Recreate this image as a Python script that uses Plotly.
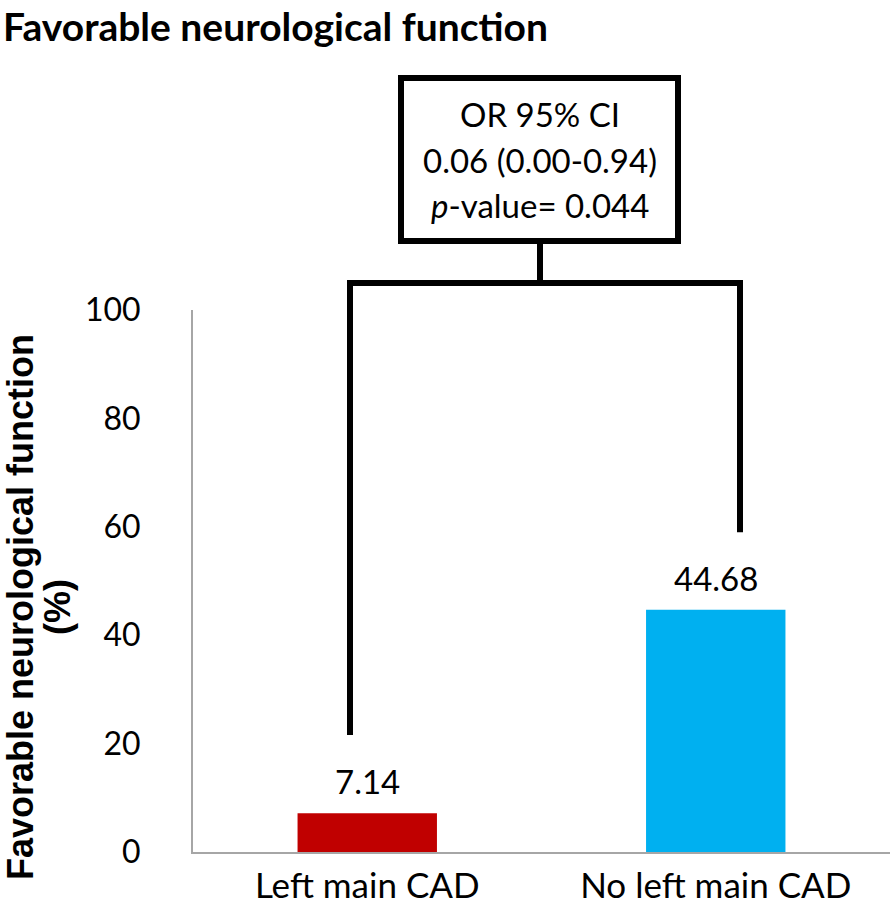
import plotly.graph_objects as go

categories = ["Left main CAD", "No left main CAD"]
values = [7.14, 44.68]
colors = ["#C00000", "#00B0F0"]
y_ticks = [0, 20, 40, 60, 80, 100]
stat_lines = ["OR 95% CI", "0.06 (0.00-0.94)", "<i>p</i>-value= 0.044"]
bracket_left_y = 21.6
bracket_right_y = 59.0
title_text = "Favorable neurological function"
y_title_lines = ["Favorable neurological function", "(%)"]

W, H = 894, 908
L, B = 193, 56
plot_w = 890 - L
R = W - 890
y0_px, y100_px = 852, 310
paper_h = H - B  # top margin is 0


def px_x(px):
    return (px - L) / plot_w


def px_y(py):
    return (y0_px - py) / paper_h


def data_y(v):
    return (v / 100.0) * (y0_px - y100_px) / paper_h


FONT = "Lato, 'Open Sans', sans-serif"
ARIAL = "'Liberation Sans', Arial, sans-serif"

fig = go.Figure()
fig.add_trace(go.Bar(
    x=categories, y=values,
    marker=dict(color=colors, line=dict(width=0)),
    width=0.4,
    hoverinfo="x+y",
))

lw = 6
line = dict(color="black", width=lw)
top_y = px_y(283)
xl, xr, xc = px_x(350), px_x(740), px_x(540)
half = (lw / 2) / plot_w
shapes = [
    dict(type="line", xref="paper", yref="paper", x0=xl, x1=xl, y0=data_y(bracket_left_y), y1=top_y, line=line),
    dict(type="line", xref="paper", yref="paper", x0=xr, x1=xr, y0=data_y(bracket_right_y), y1=top_y, line=line),
    dict(type="line", xref="paper", yref="paper", x0=xl - half, x1=xr + half, y0=top_y, y1=top_y, line=line),
    dict(type="line", xref="paper", yref="paper", x0=xc, x1=xc, y0=top_y, y1=px_y(242), line=line),
    dict(type="rect", xref="paper", yref="paper", x0=px_x(401), x1=px_x(678), y0=px_y(241), y1=px_y(78),
         line=line, fillcolor="white"),
]

annotations = []
# statistics box text
for txt, cy in zip(stat_lines, [114, 160, 205]):
    annotations.append(dict(text=txt, xref="paper", yref="paper", x=px_x(540), y=px_y(cy),
                            showarrow=False, font=dict(size=33, color="black", family=FONT),
                            xanchor="center", yanchor="middle"))
# data labels
for c, v in zip(categories, values):
    annotations.append(dict(text=f"{v:.2f}", xref="x", yref="y", x=c, y=v, showarrow=False,
                            yanchor="bottom", yshift=10,
                            font=dict(size=33, color="black", family=FONT)))
# y-axis title (two lines)
for txt, cx in zip(y_title_lines, [20, 57]):
    annotations.append(dict(text=f"<b>{txt}</b>", xref="paper", yref="paper",
                            x=px_x(cx), y=px_y(607), textangle=-90, showarrow=False,
                            font=dict(size=36, color="black", family=ARIAL),
                            xanchor="center", yanchor="middle"))
# chart title
annotations.append(dict(text=f"<b>{title_text}</b>", xref="paper", yref="paper",
                        x=px_x(1), y=px_y(1), showarrow=False, xanchor="left", yanchor="top",
                        font=dict(size=39, color="black", family=FONT)))

fig.update_layout(
    width=W, height=H,
    margin=dict(l=L, r=R, t=0, b=B),
    paper_bgcolor="white", plot_bgcolor="white",
    showlegend=False,
    shapes=shapes,
    annotations=annotations,
    xaxis=dict(showline=True, linecolor="#A6A6A6", linewidth=2, showgrid=False,
               ticks="", tickfont=dict(size=35, color="black", family=FONT),
               range=[-0.5, 1.5], automargin=False, ticklabelstandoff=2),
    yaxis=dict(range=[0, 100], domain=[0, (y0_px - y100_px) / paper_h],
               tickvals=y_ticks, showline=True, linecolor="#A6A6A6", linewidth=2,
               showgrid=False, zeroline=False, ticks="", automargin=False,
               tickfont=dict(size=32, color="black", family=FONT),
               ticklabelstandoff=44),
)

fig.write_html("out.html", config={"displayModeBar": False},
               post_script="document.body.style.margin='0px';")
